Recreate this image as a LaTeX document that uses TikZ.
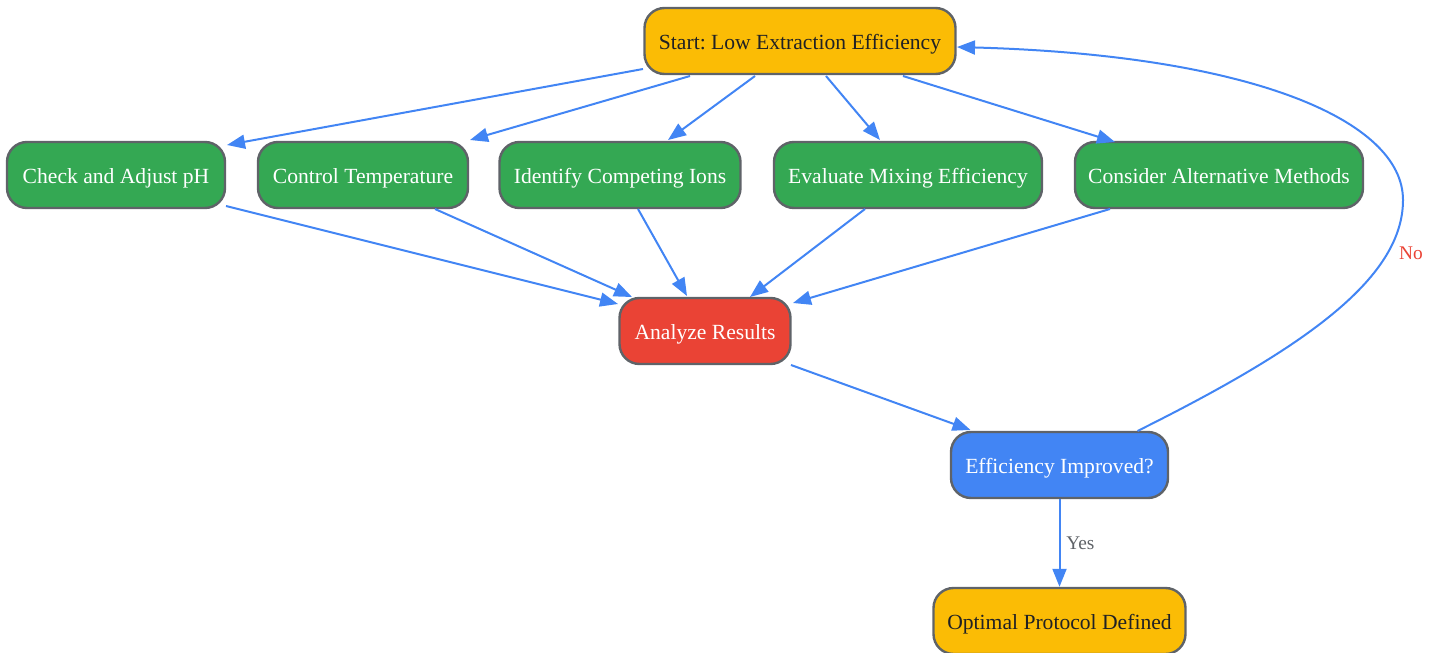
\documentclass[tikz,border=0pt]{standalone}
\usepackage{fontspec}
\setmainfont{Liberation Serif}
\usetikzlibrary{arrows.meta,calc}
\frenchspacing
\definecolor{gyellow}{HTML}{FBBC05}
\definecolor{ggreen}{HTML}{34A853}
\definecolor{gred}{HTML}{EA4335}
\definecolor{gblue}{HTML}{4285F4}
\definecolor{gborder}{HTML}{5F6368}
\definecolor{gtext}{HTML}{202124}
\tikzset{
  box/.style={draw=gborder, line width=1.8pt, rounded corners=15pt, minimum height=49.5pt,
    inner sep=0pt, text height=15pt, text depth=2.2pt, font=\fontsize{16.2}{19}\selectfont},
  yellowbox/.style={box, fill=gyellow, text=gtext},
  greenbox/.style={box, fill=ggreen, text=white},
  redbox/.style={box, fill=gred, text=white},
  bluebox/.style={box, fill=gblue, text=white},
  conn/.style={draw=gblue, line width=1.5pt, -{Triangle[length=13.5pt,width=10.5pt]}},
  elabel/.style={font=\fontsize{14.5}{17}\selectfont}
}
\begin{document}
\begin{tikzpicture}[x=0.75pt,y=-0.75pt]
\useasboundingbox (0,0) rectangle (1435,653);
\node[yellowbox, minimum width=233.25pt] (start) at (800,41) {Start: Low Extraction Efficiency};
\node[greenbox, minimum width=163.5pt] (ph) at (116,175) {Check and Adjust pH};
\node[greenbox, minimum width=157.5pt] (temp) at (363,175) {Control Temperature};
\node[greenbox, minimum width=180.75pt] (ions) at (620,175) {Identify Competing Ions};
\node[greenbox, minimum width=201pt] (mix) at (908,175) {Evaluate Mixing Efficiency};
\node[greenbox, minimum width=216pt] (alt) at (1219,175) {Consider Alternative Methods};
\node[redbox, minimum width=128.25pt] (analyze) at (705,331) {Analyze Results};
\node[bluebox, minimum width=162.75pt] (eff) at (1059.5,465) {Efficiency Improved?};
\node[yellowbox, minimum width=189pt] (opt) at (1059.5,621) {Optimal Protocol Defined};

\draw[conn] ($(start.center)+(-157,28)$) -- ($(ph.center)+(111,-30)$);
\draw[conn] ($(start.center)+(-110,35)$) -- ($(temp.center)+(107,-35)$);
\draw[conn] ($(start.center)+(-45,35)$) -- ($(ions.center)+(48,-35)$);
\draw[conn] ($(start.center)+(26,35)$) -- ($(mix.center)+(-28,-35)$);
\draw[conn] ($(start.center)+(103,35)$) -- ($(alt.center)+(-104,-33)$);

\draw[conn] ($(ph.center)+(110,31)$) -- ($(analyze.center)+(-87,-27)$);
\draw[conn] ($(temp.center)+(72,34)$) -- ($(analyze.center)+(-73,-34)$);
\draw[conn] ($(ions.center)+(18,34)$) -- ($(analyze.center)+(-18,-35)$);
\draw[conn] ($(mix.center)+(-43,34)$) -- ($(analyze.center)+(45,-34)$);
\draw[conn] ($(alt.center)+(-109,34)$) -- ($(analyze.center)+(88,-28)$);

\draw[conn] ($(analyze.center)+(86,34)$) -- ($(eff.center)+(-89,-35)$);
\draw[conn] (eff.south) -- node[elabel, right, text=gborder, xshift=1pt] (yes) {Yes} (opt.north);

\coordinate (loop) at (1403,200);
\draw[conn] ($(eff.center)+(78,-34)$) .. controls (1300,350) and (1403,280) .. (loop)
  .. controls (1403,120) and (1250,55) .. ($(start.center)+(157,6)$);
\node[elabel, text=gred] (no) at (1411,253) {No};
\end{tikzpicture}
\end{document}
